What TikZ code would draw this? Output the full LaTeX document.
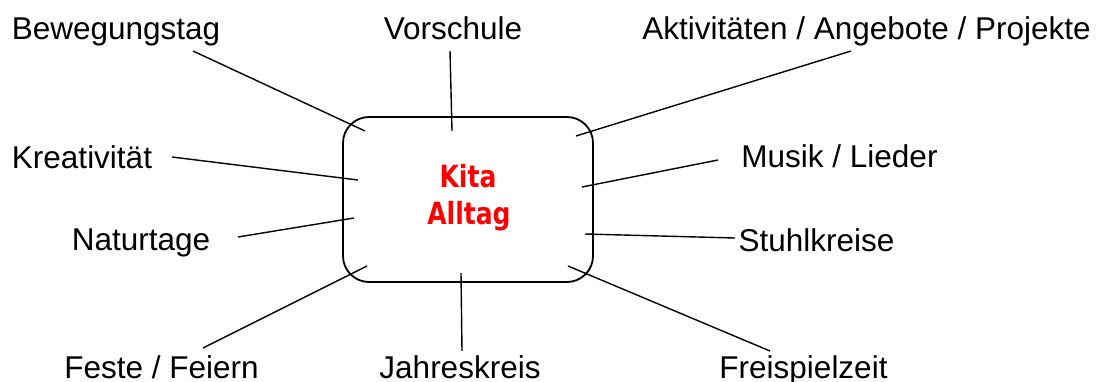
\documentclass[tikz,border=0pt]{standalone}
\usepackage{fontspec}
\setmainfont{Liberation Sans}
\newfontfamily\kitafont[FakeStretch=0.82]{DejaVu Sans Bold}
\begin{document}
\begin{tikzpicture}[x=1pt,y=-1pt,
  lbl/.style={inner sep=0pt,anchor=base,font=\fontsize{31.5}{37}\selectfont},
  conn/.style={line width=1.4pt,black},
  hub/.style={draw=black,line width=1.8pt,rounded corners=26pt}]
\useasboundingbox (0,0) rectangle (1099,382);
% central box
\draw[hub] (343,117) rectangle (593,282);
\node[inner sep=0pt,anchor=base,text=red,font=\kitafont\fontsize{30.5}{37}\selectfont] (kita) at (468,187) {Kita};
\node[inner sep=0pt,anchor=base,text=red,font=\kitafont\fontsize{30.5}{37}\selectfont] (alltag) at (469,224) {Alltag};
% labels
\node[lbl] (beweg) at (116,39.5) {Bewegungstag};
\node[lbl] (vors) at (453,39.5) {Vorschule};
\node[lbl] (akt) at (866.5,39.5) {Aktivitäten / Angebote / Projekte};
\node[lbl] (krea) at (82,168) {Kreativität};
\node[lbl] (musik) at (839.5,167.5) {Musik / Lieder};
\node[lbl] (natur) at (141,250.5) {Naturtage};
\node[lbl] (stuhl) at (816.5,251) {Stuhlkreise};
\node[lbl] (feste) at (161.5,378.5) {Feste / Feiern};
\node[lbl] (jahr) at (460,378.5) {Jahreskreis};
\node[lbl] (frei) at (803.5,378.5) {Freispielzeit};
% connector end points
\coordinate (b1) at (193,51);  \coordinate (b2) at (365,131);
\coordinate (v1) at (450,51);  \coordinate (v2) at (452,131);
\coordinate (a1) at (851,51);  \coordinate (a2) at (576,136);
\coordinate (k1) at (172,157); \coordinate (k2) at (358,180);
\coordinate (m1) at (718,160); \coordinate (m2) at (582,187);
\coordinate (n1) at (238,237); \coordinate (n2) at (354,218);
\coordinate (s1) at (735,238); \coordinate (s2) at (585,234);
\coordinate (f1) at (203,348); \coordinate (f2) at (367,266);
\coordinate (j1) at (462,351); \coordinate (j2) at (461,273);
\coordinate (fr1) at (770,351); \coordinate (fr2) at (568,266);
% connectors
\draw[conn] (b1) -- (b2);
\draw[conn] (v1) -- (v2);
\draw[conn] (a1) -- (a2);
\draw[conn] (k1) -- (k2);
\draw[conn] (m1) -- (m2);
\draw[conn] (n1) -- (n2);
\draw[conn] (s1) -- (s2);
\draw[conn] (f1) -- (f2);
\draw[conn] (j1) -- (j2);
\draw[conn] (fr1) -- (fr2);
\end{tikzpicture}
\end{document}
